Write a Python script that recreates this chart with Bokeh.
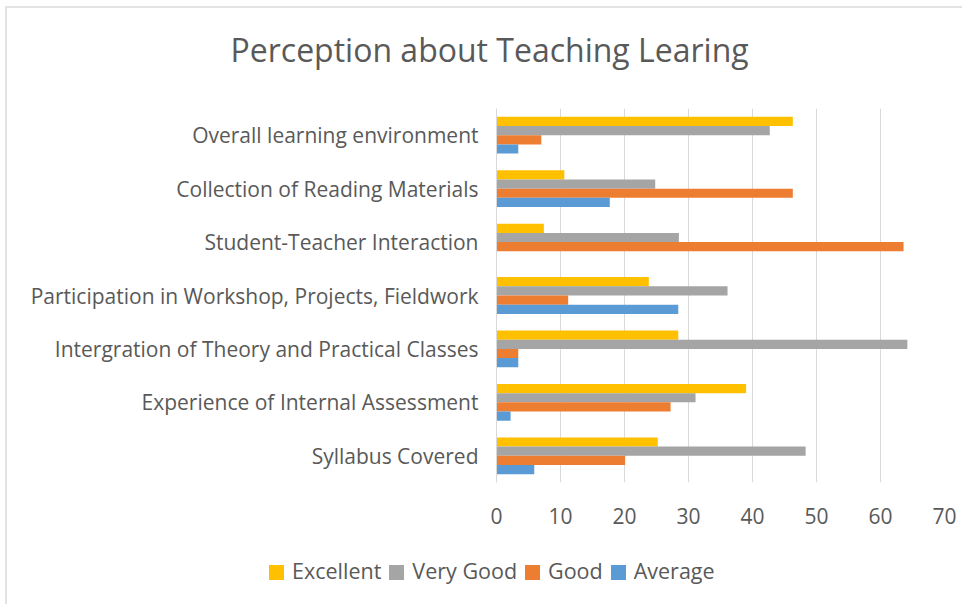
from bokeh.plotting import figure
from bokeh.models import FactorRange, Range1d, ColumnDataSource, FixedTicker, Title, Div
from bokeh.layouts import column
from bokeh.transform import dodge
from bokeh.embed import file_html
from bokeh.resources import INLINE

categories = [
    "Syllabus Covered",
    "Experience of Internal Assessment",
    "Intergration of Theory and Practical Classes",
    "Participation in Workshop, Projects, Fieldwork",
    "Student-Teacher Interaction",
    "Collection of Reading Materials",
    "Overall learning environment",
]
excellent = [25.2, 39.0, 28.4, 23.8, 7.4, 10.6, 46.3]
very_good = [48.3, 31.1, 64.2, 36.1, 28.5, 24.8, 42.7]
good = [20.1, 27.2, 3.4, 11.2, 63.6, 46.3, 7.0]
average = [5.9, 2.2, 3.4, 28.4, 0.0, 17.7, 3.4]
x_ticks = [0, 10, 20, 30, 40, 50, 60, 70]

series = [
    ("Excellent", excellent, "#FFC000", 0.258),
    ("Very Good", very_good, "#A5A5A5", 0.086),
    ("Good", good, "#ED7D31", -0.086),
    ("Average", average, "#5B9BD5", -0.258),
]

FONT = "Open Sans"
TXT = "#595959"

p = figure(
    width=955, height=545,
    y_range=FactorRange(factors=categories),
    x_range=Range1d(0, 70),
    output_backend="svg", toolbar_location=None,
    min_border_left=489, min_border_right=18,
    min_border_top=100, min_border_bottom=71,
)
p.outline_line_color = None

src = ColumnDataSource(dict(cat=categories, Excellent=excellent, VeryGood=very_good,
                            Good=good, Average=average))
for name, vals, color, off in series:
    col = name.replace(" ", "")
    p.hbar(y=dodge("cat", off, range=p.y_range), right=col, left=0, height=0.172,
           source=src, fill_color=color, line_color=None)

p.xaxis.ticker = FixedTicker(ticks=x_ticks)
p.xaxis.axis_line_color = None
p.xaxis.major_tick_line_color = None
p.xaxis.minor_tick_line_color = None
p.xaxis.major_label_text_font = FONT
p.xaxis.major_label_text_font_size = "21px"
p.xaxis.major_label_text_color = TXT
p.xaxis.major_label_standoff = 19

p.yaxis.axis_line_color = "#d9d9d9"
p.yaxis.major_tick_line_color = None
p.yaxis.minor_tick_line_color = None
p.yaxis.major_label_text_font = FONT
p.yaxis.major_label_text_font_size = "21px"
p.yaxis.major_label_text_color = TXT
p.yaxis.major_label_standoff = 12

p.xgrid.grid_line_color = "#d9d9d9"
p.ygrid.grid_line_color = None

# spacer between the frame and the title (closest panel)
spacer = Title(text=" ", text_font_size="1px", standoff=35, text_color="white")
p.add_layout(spacer, "above")
title = Title(text="Perception about Teaching Learing", align="left", offset=-266,
              vertical_align="bottom", text_font=FONT, text_font_size="32px",
              text_font_style="normal", text_color=TXT, standoff=0)
p.add_layout(title, "above")

# legend strip below the chart
parts = []
for name, vals, color, off in series:
    parts.append(
        f'<span style="display:inline-block;width:15px;height:15px;background:{color};'
        f'margin-right:8px;vertical-align:-1px"></span>'
        f'<span style="margin-right:8px">{name}</span>'
    )
legend_html = (
    f'<div style="font-family:\'{FONT}\';font-size:21.5px;color:{TXT};line-height:24px;'
    f'padding-top:6px;padding-left:262px;white-space:nowrap">' + "".join(parts) + "</div>"
)
legend_div = Div(text=legend_html, width=955, height=51, margin=0)

layout = column(p, legend_div, spacing=0)
layout.styles = {"border-left": "2px solid #e3e3e3", "border-top": "2px solid #e3e3e3",
                 "margin-left": "5px", "margin-top": "6px"}

open("out.html", "w").write(file_html(layout, INLINE))
